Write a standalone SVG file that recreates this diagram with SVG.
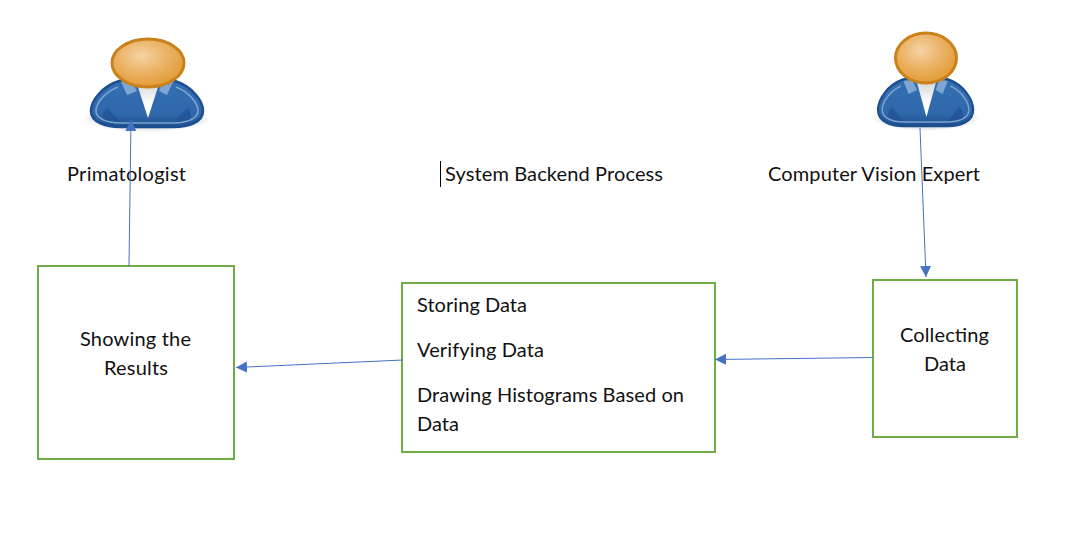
<svg xmlns="http://www.w3.org/2000/svg" width="1065" height="557" viewBox="0 0 1065 557">
<style>
text{font-family:Lato,"Open Sans","Liberation Sans",sans-serif;font-size:20px;fill:#111}
.box{fill:#fff;stroke:#70ad47;stroke-width:2}
.conn{fill:none;stroke:#4472c4;stroke-width:1;marker-end:url(#arrow)}
</style>
<defs>
<marker id="arrow" markerUnits="userSpaceOnUse" markerWidth="12" markerHeight="12" refX="11" refY="5.5" orient="auto"><path d="M0 0L11 5.5L0 11Z" fill="#4472c4"/></marker>
<radialGradient id="head" cx="0.42" cy="0.35" r="0.65"><stop offset="0" stop-color="#f4d3a6"/><stop offset="0.55" stop-color="#ebb163"/><stop offset="1" stop-color="#e19c35"/></radialGradient>
<linearGradient id="suit" x1="0" y1="0" x2="0" y2="1"><stop offset="0" stop-color="#3470b5"/><stop offset="0.75" stop-color="#2f68aa"/><stop offset="1" stop-color="#1f4f8f"/></linearGradient>
<radialGradient id="shadow"><stop offset="0.55" stop-color="#000" stop-opacity="0.2"/><stop offset="1" stop-color="#000" stop-opacity="0"/></radialGradient>
<linearGradient id="shirt" x1="0" y1="0" x2="0" y2="1"><stop offset="0" stop-color="#d8d8d8"/><stop offset="0.5" stop-color="#fafafa"/><stop offset="1" stop-color="#fff"/></linearGradient>
<g id="person">
<ellipse cx="56" cy="41" rx="64" ry="13" fill="url(#shadow)"/>
<path d="M28 3C12 8 0 22 0 33C0 44 14 49 30 49H82C98 49 112 44 112 33C112 22 100 8 84 3C70 -2 42 -2 28 3Z" fill="url(#suit)" stroke="#1d4f90" stroke-width="2.5"/>
<path d="M27 9C14 14 5 25 5 33C5 41 17 45 30 45H82C95 45 107 41 107 33C107 25 98 14 85 9" fill="none" stroke="#7ca2d0" stroke-width="1.6"/>
<path d="M14 42C10 38 12 34 16 30L30 44Z M98 42C102 38 100 34 96 30L82 44Z" fill="#1f4f8f" opacity="0.6"/>
<path d="M46 6L57 40L68 6Z" fill="url(#shirt)"/>
<path d="M30 4L36 17L46 13L40 3Z M82 4L76 17L68 13L72 3Z" fill="#7fa6d2"/>
</g>
</defs>
<rect width="1065" height="557" fill="#fff"/>
<g id="primatologist-icon"><use href="#person" transform="translate(91,78)"/><ellipse cx="148" cy="63" rx="36" ry="24" fill="url(#head)" stroke="#c9821a" stroke-width="3"/></g>
<g id="expert-icon"><use href="#person" transform="translate(878,77) scale(0.85,1)"/><ellipse cx="926" cy="58" rx="30.500" ry="25" fill="url(#head)" stroke="#c9821a" stroke-width="3"/></g>
<g id="primatologist-label"><text x="67" y="181" textLength="119">Primatologist</text></g>
<g id="backend-label"><line x1="440.500" y1="161" x2="440.500" y2="187" stroke="#000"/><text x="445" y="181" textLength="218">System Backend Process</text></g>
<g id="expert-label"><text x="768" y="181" textLength="212">Computer Vision Expert</text></g>
<g id="results"><rect class="box" x="38" y="266" width="196" height="193"/><text x="80" y="346" textLength="111">Showing the</text><text x="104" y="375" textLength="64">Results</text></g>
<g id="process"><rect class="box" x="402" y="283" width="313" height="169"/><text x="417" y="312" textLength="110">Storing Data</text><text x="417" y="357" textLength="127">Verifying Data</text><text x="417" y="402" textLength="267">Drawing Histograms Based on</text><text x="417" y="431" textLength="42">Data</text></g>
<g id="collecting"><rect class="box" x="873" y="280" width="144" height="157"/><text x="900" y="342" textLength="89">Collecting</text><text x="924" y="371" textLength="42">Data</text></g>
<g id="connectors">
<line class="conn" x1="129" y1="266" x2="131" y2="120"/>
<line class="conn" x1="920" y1="128" x2="926" y2="277"/>
<line class="conn" x1="873" y1="357.500" x2="715" y2="359.500"/>
<line class="conn" x1="403" y1="360" x2="236" y2="367.500"/>
</g>
</svg>
